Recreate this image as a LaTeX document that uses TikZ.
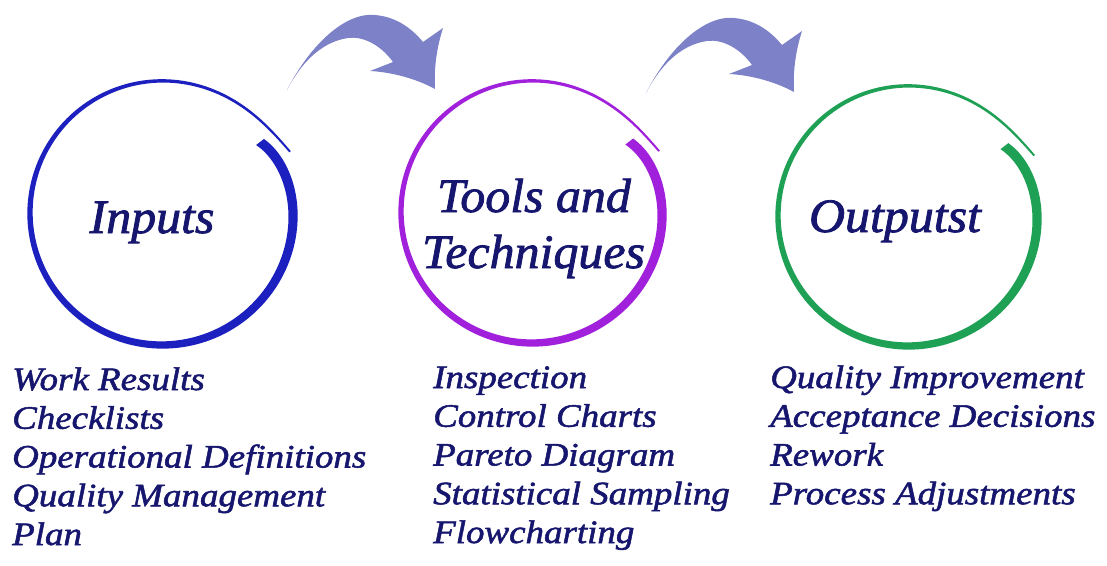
\documentclass[tikz,border=0pt]{standalone}
\usepackage{fontspec}
\newfontfamily\ttlfont[FakeStretch=1.04,FakeBold=1.6]{Liberation Serif}
\newfontfamily\lstfont[FakeStretch=1.13,FakeBold=1.6]{Liberation Serif}
\definecolor{navy}{RGB}{22,22,110}
\definecolor{ringblue}{RGB}{28,32,190}
\definecolor{ringpurple}{RGB}{160,32,220}
\definecolor{ringgreen}{RGB}{30,160,85}
\definecolor{arrowfill}{RGB}{125,130,200}
\tikzset{
  title/.style={anchor=base, inner sep=0pt, text=navy, font=\ttlfont\itshape\fontsize{48}{48}\selectfont},
  item/.style={anchor=base west, inner sep=0pt, text=navy, font=\lstfont\itshape\fontsize{32.7}{38}\selectfont},
  bigarrow/.style={fill=arrowfill, draw=none}
}
\begin{document}
\begin{tikzpicture}[x=1pt,y=-1pt]
\useasboundingbox (0,0) rectangle (1107,565);
\fill[white] (0,0) rectangle (1107,565);
% brush-stroke rings
\foreach \cx/\cy/\rr/\col in {162/213/132/ringblue, 532/212/131/ringpurple, 908/216/130/ringgreen}{
  \fill[\col] plot[variable=\u, domain=0:1, samples=160, smooth]
     ({\cx+(\rr-11*exp(-25*\u)+10*exp(-25*(1-\u))+(10-8*\u)/2)*cos(36-370.5*\u)},
      {\cy-(\rr-11*exp(-25*\u)+10*exp(-25*(1-\u))+(10-8*\u)/2)*sin(36-370.5*\u)})
   -- plot[variable=\u, domain=1:0, samples=160, smooth]
     ({\cx+(\rr-11*exp(-25*\u)+10*exp(-25*(1-\u))-(10-8*\u)/2)*cos(36-370.5*\u)},
      {\cy-(\rr-11*exp(-25*\u)+10*exp(-25*(1-\u))-(10-8*\u)/2)*sin(36-370.5*\u)})
   -- cycle;
}
% curved block arrows
\foreach \dx/\dy in {0/0, 359/3}{
  \fill[bigarrow, shift={(\dx,\dy)}]
    (287,90) .. controls (310,45) and (345,12) .. (375,15)
    .. controls (398,17) and (413,30) .. (423,42)
    -- (443,28) .. controls (436,50) and (434,70) .. (435,89)
    .. controls (415,78) and (390,72) .. (370,71)
    -- (393,62) .. controls (380,44) and (362,36) .. (348,38)
    .. controls (320,42) and (300,65) .. (287,90) -- cycle;
}
% titles
\node[title] (tin) at (152,233) {Inputs};
\node[title] (ttools) at (534,212) {Tools and};
\node[title] (ttech) at (533.5,268) {Techniques};
\node[title] (tout) at (895,232) {Outputst};
% lists
\foreach \t [count=\i] in {Work Results, Checklists, Operational Definitions, Quality Management, Plan}
  \node[item] (a\i) at (12,{390+38.75*(\i-1)}) {\t};
\foreach \t [count=\i] in {Inspection, Control Charts, Pareto Diagram, Statistical Sampling, Flowcharting}
  \node[item] (b\i) at (433,{388+38.75*(\i-1)}) {\t};
\foreach \t [count=\i] in {Quality Improvement, Acceptance Decisions, Rework, Process Adjustments}
  \node[item] (c\i) at (770,{388+38.75*(\i-1)}) {\t};
\end{tikzpicture}
\end{document}
